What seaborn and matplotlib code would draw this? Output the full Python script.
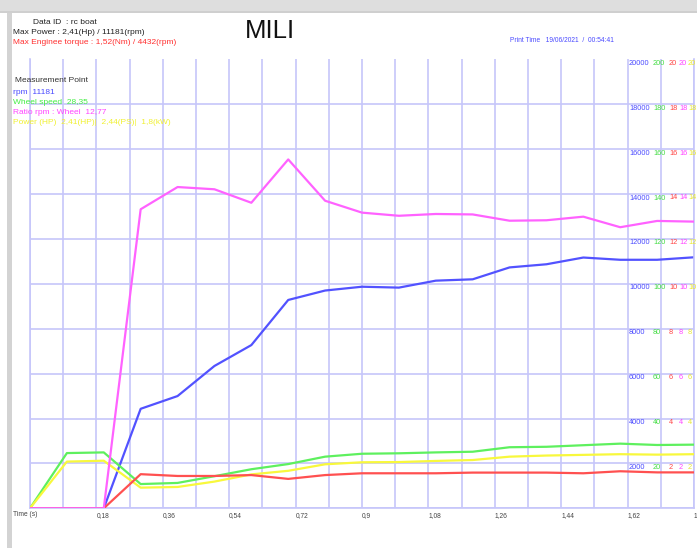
"""
Dyno run chart for the rc boat (MILI).
Rebuilds the printed measurement sheet with seaborn line plots.
"""

import matplotlib
matplotlib.use("Agg")
import matplotlib.pyplot as plt
import matplotlib.transforms as mtransforms
from matplotlib.patches import Rectangle
import pandas as pd
import seaborn as sns

# measured samples (one every 0.1 s)
time_s = [0.0, 0.1, 0.2, 0.3, 0.4, 0.5, 0.6, 0.7, 0.8, 0.9,
          1.0, 1.1, 1.2, 1.3, 1.4, 1.5, 1.6, 1.7, 1.8]
rpm = [0, 0, 0, 4432, 5000, 6340, 7270, 9280, 9700, 9870,
       9830, 10140, 10200, 10730, 10870, 11170, 11070, 11070, 11181]
wheel_speed = [0, 24.6, 24.9, 10.8, 11.3, 14.3, 17.4, 19.7, 23.0, 24.3,
               24.5, 24.9, 25.2, 27.2, 27.4, 28.1, 28.8, 28.2, 28.35]
ratio = [0, 0, 0, 13.32, 14.31, 14.21, 13.61, 15.54, 13.70, 13.17,
         13.03, 13.11, 13.09, 12.81, 12.83, 12.99, 12.52, 12.80, 12.77]
power_hp = [0, 2.08, 2.12, 0.92, 0.95, 1.19, 1.51, 1.67, 1.96, 2.05,
            2.06, 2.11, 2.15, 2.30, 2.35, 2.38, 2.41, 2.39, 2.41]
torque = [0, 0, 0, 1.52, 1.44, 1.44, 1.48, 1.31, 1.48, 1.56,
          1.56, 1.56, 1.59, 1.59, 1.59, 1.56, 1.65, 1.60, 1.60]

# grid / tick labels
grid_x = [0.0, 0.09, 0.18, 0.27, 0.36, 0.45, 0.54, 0.63, 0.72, 0.81, 0.9,
          0.99, 1.08, 1.17, 1.26, 1.35, 1.44, 1.53, 1.62, 1.71, 1.8]
x_labels = ["", "", "0,18", "", "0,36", "", "0,54", "", "0,72", "", "0,9",
            "", "1,08", "", "1,26", "", "1,44", "", "1,62", "", "1,8"]
grid_rpm = [0, 2000, 4000, 6000, 8000, 10000, 12000, 14000, 16000, 18000]
rpm_levels = [2000, 4000, 6000, 8000, 10000, 12000, 14000, 16000, 18000, 20000]
wheel_levels = [20, 40, 60, 80, 100, 120, 140, 160, 180, 200]
small_levels = [2, 4, 6, 8, 10, 12, 14, 16, 18, 20]

C_BLUE = "#5252ff"
C_GREEN = "#5ef05e"
C_RED = "#ff5050"
C_PINK = "#ff62ff"
C_YELLOW = "#f8f83c"
C_GRID = "#c6c6fa"

sns.set_style("white")
plt.rcParams["font.family"] = ["Liberation Sans", "DejaVu Sans"]

W, H = 697, 548
fig = plt.figure(figsize=(W / 100, H / 100), dpi=100)
fig.patch.set_facecolor("white")

# grey frame of the scanned sheet
fig.patches.append(Rectangle((0, 1 - 13 / H), 1, 13 / H, transform=fig.transFigure,
                             facecolor="#dedede", edgecolor="none", zorder=0))
fig.patches.append(Rectangle((0, 1 - 13 / H), 1, 2 / H, transform=fig.transFigure,
                             facecolor="#cfcfcf", edgecolor="none", zorder=0))
fig.patches.append(Rectangle((7 / W, 0), 5 / W, 1 - 13 / H, transform=fig.transFigure,
                             facecolor="#d3d3d3", edgecolor="none", zorder=0))

ax = fig.add_axes([30 / W, 1 - 508.3 / H, 664 / W, 449 / H])
ax.set_facecolor("none")

df = pd.DataFrame({"time": time_s, "rpm": rpm, "wheel": wheel_speed,
                   "ratio": ratio, "power": power_hp, "torque": torque})

lw = 1.6
sns.lineplot(data=df, x="time", y="rpm", ax=ax, color=C_BLUE, linewidth=lw)

ax.set_xlim(0, 1.8)
ax.set_ylim(0, 20000)
ax.set_xticks(grid_x)
ax.set_xticklabels(x_labels, ha="left", fontsize=4.8, color="#444444")
ax.set_yticks(grid_rpm)
ax.set_yticklabels([])
ax.tick_params(length=0, pad=3)
ax.set_xlabel("")
ax.set_ylabel("")
ax.grid(True, color=C_GRID, linewidth=1.2)
ax.set_axisbelow(True)
for side in ["left", "bottom", "right"]:
    ax.spines[side].set_visible(True)
    ax.spines[side].set_color(C_GRID)
    ax.spines[side].set_linewidth(1.2)
ax.spines["top"].set_visible(False)

# wheel speed scale 0..200
ax2 = ax.twinx()
sns.lineplot(data=df, x="time", y="wheel", ax=ax2, color=C_GREEN, linewidth=lw)
ax2.set_ylim(0, 200)
ax2.axis("off")

# ratio / power / torque scale 0..20
ax3 = ax.twinx()
sns.lineplot(data=df, x="time", y="power", ax=ax3, color=C_YELLOW, linewidth=lw)
sns.lineplot(data=df, x="time", y="torque", ax=ax3, color=C_RED, linewidth=lw)
sns.lineplot(data=df, x="time", y="ratio", ax=ax3, color=C_PINK, linewidth=lw)
ax3.set_ylim(0, 20)
ax3.axis("off")
ax3.set_xlim(0, 1.8)
ax2.set_xlim(0, 1.8)

# scale labels drawn inside the plot, just under each grid line
def scale_labels(axis, levels, xpos, color):
    trans = mtransforms.blended_transform_factory(axis.transAxes, axis.transData)
    trans = mtransforms.offset_copy(trans, fig=fig, y=-4, units="dots")
    for v in levels:
        axis.text(xpos, v, str(v), transform=trans, fontsize=5.3, color=color,
                  ha="left", va="center", clip_on=False)

scale_labels(ax, rpm_levels, (629 - 30) / 664, "#4a4aff")
scale_labels(ax2, wheel_levels, (653 - 30) / 664, "#44dd44")
scale_labels(ax3, small_levels, (669 - 30) / 664, "#ff4444")
scale_labels(ax3, small_levels, (679 - 30) / 664, "#ff44ff")
scale_labels(ax3, small_levels, (688 - 30) / 664, "#e8e830")

# header
def ftext(px, py, s, **kw):
    fig.text(px / W, 1 - py / H, s, va="center", **kw)

ftext(33, 22, "Data ID  : rc boat", fontsize=6, color="#222222")
ftext(13, 32.5, "Max Power : 2,41(Hp) / 11181(rpm)", fontsize=6, color="#222222")
ftext(13, 43, "Max Enginee torque : 1,52(Nm) / 4432(rpm)", fontsize=6, color="#ff3030")
ftext(245, 31, "MILI", fontsize=18.5, color="#111111")
ftext(510, 41, "Print Time   19/06/2021  /  00:54:41", fontsize=4.8, color="#4a4aff")

# measurement point block
ftext(15, 81, "Measurement Point", fontsize=6, color="#333333")
ftext(13, 92, "rpm  11181", fontsize=6, color="#4a4aff")
ftext(13, 102, "Wheel speed  28,35", fontsize=6, color="#44ee44")
ftext(13, 112.5, "Ratio rpm : Wheel  12,77", fontsize=6, color="#ff44ff")
ftext(13, 122.5, "Power (HP)  2,41(HP)|  2,44(PS)|  1,8(kW)", fontsize=6, color="#f0f030")

ftext(13, 515, "Time (s)", fontsize=4.8, color="#444444")

fig.savefig("out.png", dpi=100)
